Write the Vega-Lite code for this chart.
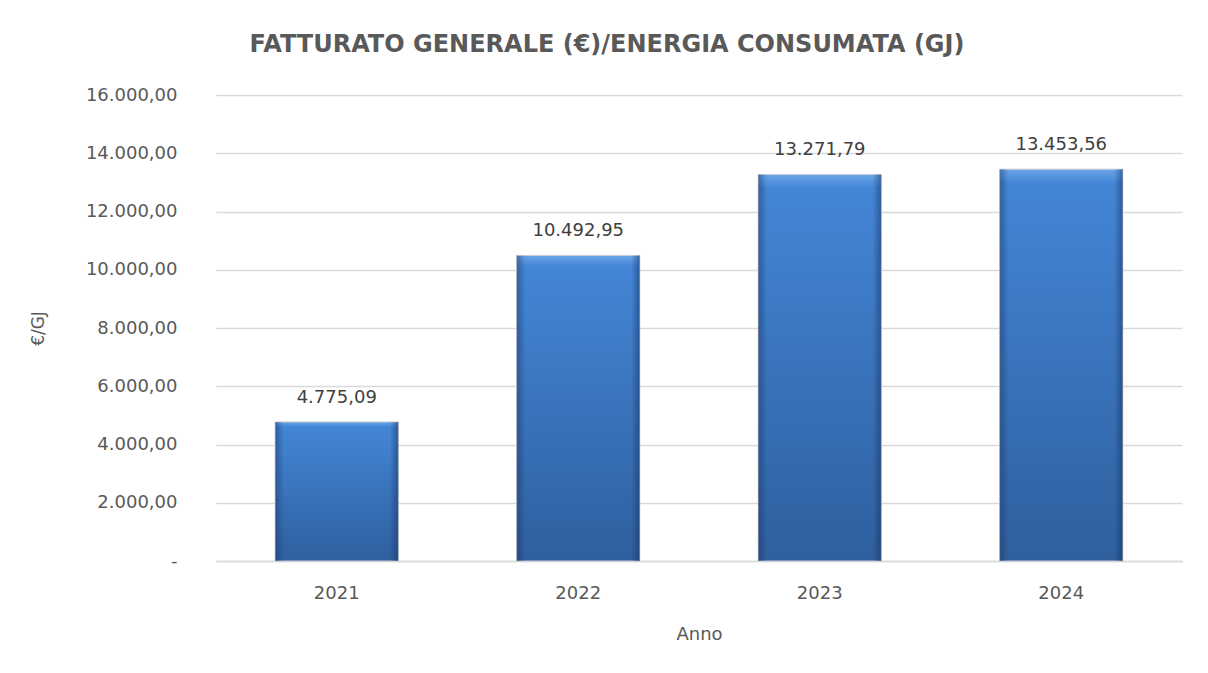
{
  "$schema": "https://vega.github.io/schema/vega-lite/v6.json",
  "width": 966,
  "height": 466,
  "autosize": {"type": "none"},
  "padding": {"left": 216, "top": 95, "right": 26, "bottom": 112},
  "background": "white",
  "config": {
    "locale": {"number": {"decimal": ",", "thousands": ".", "grouping": [3], "currency": ["€", ""]}},
    "view": {"stroke": null},
    "font": "DejaVu Sans"
  },
  "title": {
    "text": "FATTURATO GENERALE (€)/ENERGIA CONSUMATA (GJ)",
    "font": "DejaVu Sans",
    "fontSize": 24,
    "fontWeight": "bold",
    "color": "#595959",
    "anchor": "middle",
    "dx": -92,
    "offset": 29
  },
  "data": {
    "values": [
      {"Anno": "2021", "valore": 4775.09},
      {"Anno": "2022", "valore": 10492.95},
      {"Anno": "2023", "valore": 13271.79},
      {"Anno": "2024", "valore": 13453.56}
    ]
  },
  "encoding": {
    "x": {
      "field": "Anno",
      "type": "ordinal",
      "scale": {"paddingInner": 0.49, "paddingOuter": 0.245},
      "axis": {
        "title": "Anno",
        "labelAngle": 0,
        "labelFont": "DejaVu Sans",
        "labelFontSize": 18,
        "labelColor": "#595959",
        "labelPadding": 23,
        "titleFont": "DejaVu Sans",
        "titleFontSize": 18,
        "titleFontWeight": "normal",
        "titleColor": "#595959",
        "titlePadding": 23,
        "ticks": false,
        "domainColor": "#d9d9d9",
        "domainWidth": 1.5
      }
    },
    "y": {
      "field": "valore",
      "type": "quantitative",
      "scale": {"domain": [0, 16000]},
      "axis": {
        "title": "€/GJ",
        "values": [0, 2000, 4000, 6000, 8000, 10000, 12000, 14000, 16000],
        "format": ",.2f",
        "labelExpr": "datum.value == 0 ? '-\u00a0\u00a0' : datum.label",
        "labelFont": "DejaVu Sans",
        "labelFontSize": 18,
        "labelColor": "#595959",
        "labelPadding": 39,
        "titleFont": "DejaVu Sans",
        "titleFontSize": 17,
        "titleFontWeight": "normal",
        "titleColor": "#595959",
        "titlePadding": 38,
        "ticks": false,
        "domain": false,
        "gridColor": "#d9d9d9",
        "gridWidth": 1.5
      }
    }
  },
  "layer": [
    {
      "mark": {
        "type": "bar",
        "stroke": "#c8cdd6",
        "strokeWidth": 1,
        "color": {
          "gradient": "linear",
          "x1": 0, "y1": 0, "x2": 0, "y2": 1,
          "stops": [
            {"offset": 0, "color": "#6aa5e6"},
            {"offset": 0.035, "color": "#4386d6"},
            {"offset": 1, "color": "#2f5f9e"}
          ]
        }
      }
    },
    {
      "mark": {
        "type": "bar",
        "color": {
          "gradient": "linear",
          "x1": 0, "y1": 0, "x2": 1, "y2": 0,
          "stops": [
            {"offset": 0, "color": "rgba(20,45,90,0.45)"},
            {"offset": 0.07, "color": "rgba(20,45,90,0)"},
            {"offset": 0.93, "color": "rgba(20,45,90,0)"},
            {"offset": 1, "color": "rgba(20,45,90,0.5)"}
          ]
        }
      }
    },
    {
      "mark": {"type": "text", "dy": -24, "fontSize": 18, "color": "#404040", "font": "DejaVu Sans"},
      "encoding": {
        "text": {"field": "valore", "type": "quantitative", "format": ",.2f"}
      }
    }
  ]
}
